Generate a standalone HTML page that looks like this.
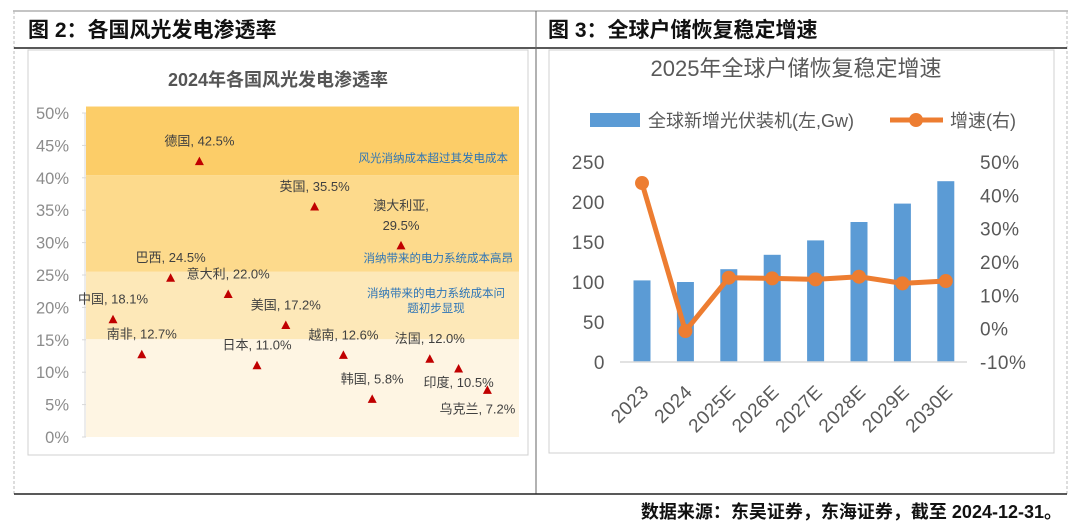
<!DOCTYPE html>
<html><head><meta charset="utf-8">
<style>
body{margin:0;background:#fff;}
svg{display:block;font-family:"Liberation Sans","Noto Sans CJK SC",sans-serif;}
</style></head>
<body>
<svg width="1080" height="528" viewBox="0 0 1080 528" xmlns="http://www.w3.org/2000/svg">
  <line x1="13" y1="11" x2="1068" y2="11" stroke="#888" stroke-width="1"/>
  <line x1="14" y1="11" x2="14" y2="494" stroke="#bbb" stroke-dasharray="3,2"/>
  <line x1="1067" y1="11" x2="1067" y2="494" stroke="#bbb" stroke-dasharray="3,2"/>
  <line x1="14" y1="48" x2="1067" y2="48" stroke="#222" stroke-width="1.5"/>
  <line x1="536" y1="11" x2="536" y2="494" stroke="#666" stroke-width="1"/>
  <line x1="14" y1="494" x2="1067" y2="494" stroke="#222" stroke-width="1.5"/>
  <text x="28" y="37" font-size="21" font-weight="bold" fill="#111">图 2：各国风光发电渗透率</text>
  <text x="548" y="37" font-size="21" font-weight="bold" fill="#111">图 3：全球户储恢复稳定增速</text>
  <text x="1062" y="518" font-size="18" font-weight="bold" fill="#111" text-anchor="end">数据来源：东吴证券，东海证券，截至 2024-12-31。</text>

  <rect x="28" y="50" width="500" height="405" fill="#fff" stroke="#d0d0d0"/>
  <text x="278" y="86" font-size="18" font-weight="bold" fill="#555" text-anchor="middle">2024年各国风光发电渗透率</text>
  <g id="left"></g>

  <rect x="549" y="50" width="505" height="403" fill="#fff" stroke="#d0d0d0"/>
  <text x="796" y="76" font-size="22" fill="#595959" text-anchor="middle">2025年全球户储恢复稳定增速</text>
  <g>
    <rect x="590" y="113" width="50" height="14" fill="#5b9bd5"/>
    <text x="648" y="127" font-size="18" fill="#595959">全球新增光伏装机(左,Gw)</text>
    <line x1="890" y1="120" x2="943" y2="120" stroke="#ed7d31" stroke-width="5"/>
    <circle cx="916" cy="120" r="7" fill="#ed7d31"/>
    <text x="950" y="127" font-size="18" fill="#595959">增速(右)</text>
  </g>
  <g id="right"></g>
</svg>
<script>
const countries = ["中国","南非","巴西","德国","意大利","日本","美国","英国","越南","韩国","澳大利亚","法国","印度","乌克兰"];
const penetration = [18.1,12.7,24.5,42.5,22.0,11.0,17.2,35.5,12.6,5.8,29.5,12.0,10.5,7.2];
const pctTicks = [0,5,10,15,20,25,30,35,40,45,50];
const bandEdges = [0,15.1,25.5,40.4,51];
const years = ["2023","2024","2025E","2026E","2027E","2028E","2029E","2030E"];
const installs = [102,100,116,134,152,175,198,226];
const growth = [43.7,-0.7,15.3,15.1,14.8,15.6,13.6,14.3];
const leftTicks = [0,50,100,150,200,250];
const rightTicks = [-10,0,10,20,30,40,50];

const NS="http://www.w3.org/2000/svg";
function mk(tag,attrs,parent,txt){const e=document.createElementNS(NS,tag);for(const k in attrs)e.setAttribute(k,attrs[k]);if(txt!==undefined)e.textContent=txt;parent.appendChild(e);return e;}

const L=document.getElementById('left');
const ly=v=>437-v*6.48;
const lx=i=>113+i*28.8;
const bandColors=["#fef5e3","#fde8b8","#fdda8c","#fccd68"];
for(let b=0;b<4;b++){
  const r=mk('rect',{x:86,y:ly(bandEdges[b+1]),width:433,height:ly(bandEdges[b])-ly(bandEdges[b+1]),fill:bandColors[b]},L);
  
  
}
const ax=mk('line',{x1:85,y1:ly(0),x2:85,y2:ly(50),stroke:"#d9d9d9"},L);


pctTicks.forEach(t=>{
  const tk=mk('line',{x1:82,y1:ly(t),x2:86,y2:ly(t),stroke:"#d9d9d9"},L);
  
  
  const tx=mk('text',{x:69,y:ly(t)+6,"font-size":16.5,fill:"#8c8c8c","text-anchor":"end"},L,t+"%");
  
  
});
const below={"印度":[0,18],"乌克兰":[-10,23]};
countries.forEach((c,i)=>{
  const x=lx(i),y=ly(penetration[i]);
  const p=mk('path',{d:`M${x},${y-5} L${x+4.5},${y+3.5} L${x-4.5},${y+3.5} Z`,fill:"#c00000"},L);
  
  
  const lab=c+", "+penetration[i].toFixed(1)+"%";
  if(c==="澳大利亚"){
    const t1=mk('text',{x:x,y:y-36,"font-size":13,fill:"#404040","text-anchor":"middle"},L,c+",");
    
    
    const t2=mk('text',{x:x,y:y-16,"font-size":13,fill:"#404040","text-anchor":"middle"},L,penetration[i].toFixed(1)+"%");
    
    
  } else {
    const o=below[c]||[0,-16];
    const t=mk('text',{x:x+o[0],y:y+o[1],"font-size":13,fill:"#404040","text-anchor":"middle"},L,lab);
    
    
  }
});
[["风光消纳成本超过其发电成本",508,162,"end"],["消纳带来的电力系统成本高昂",513,262,"end"],["消纳带来的电力系统成本问",436,297,"middle"],["题初步显现",436,312,"middle"]].forEach((a,k)=>{
  const t=mk('text',{x:a[1],y:a[2],"font-size":11.5,fill:"#2e75b6","text-anchor":a[3]},L,a[0]);
  
  
});

const R=document.getElementById('right');
const ryL=v=>362-v*0.8;
const ryR=v=>328.7-v*3.333;
const rx=i=>642+i*43.4;
leftTicks.forEach(t=>{
  const tx=mk('text',{x:605,y:ryL(t)+7,"font-size":19,fill:"#595959","text-anchor":"end","letter-spacing":"0.5"},R,t);
  
  
});
rightTicks.forEach(t=>{
  const tx=mk('text',{x:980,y:ryR(t)+7,"font-size":19,fill:"#595959","letter-spacing":"0.5"},R,t+"%");
  
  
});
installs.forEach((v,i)=>{
  const b=mk('rect',{x:rx(i)-8.5,y:ryL(v),width:17,height:ryL(0)-ryL(v),fill:"#5b9bd5"},R);
  
  
});
const base=mk('line',{x1:620,y1:ryL(0),x2:967,y2:ryL(0),stroke:"#d9d9d9","stroke-width":1.5},R);


const pts=growth.map((g,i)=>rx(i)+","+ryR(g)).join(" ");
const pl=mk('polyline',{points:pts,fill:"none",stroke:"#ed7d31","stroke-width":5,"stroke-linejoin":"round"},R);


growth.forEach((g,i)=>{
  const c=mk('circle',{cx:rx(i),cy:ryR(g),r:7,fill:"#ed7d31"},R);
  
  
});
years.forEach((y,i)=>{
  const t=mk('text',{transform:`translate(${rx(i)+8},${393}) rotate(-45)`,"font-size":19,fill:"#595959","text-anchor":"end","letter-spacing":"0.5"},R,y);
  
  
});
</script>
</body></html>
